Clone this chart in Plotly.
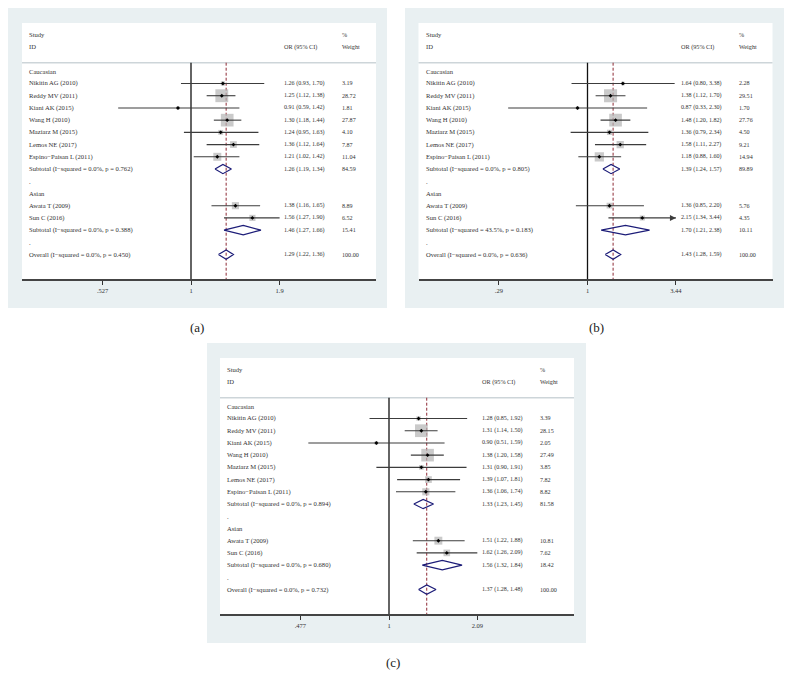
import math
import plotly.graph_objects as go

W, H = 792, 687
OFF = 8                      # browser body margin
FW, FH = W - 2 * OFF, H - 2 * OFF

# ---------------- data ----------------
study_names = ["Nikitin AG (2010)", "Reddy MV (2011)", "Kiani AK (2015)", "Wang H (2010)",
               "Maziarz M (2015)", "Lemos NE (2017)", "Espino\u2212Paisan L (2011)",
               "Awata T (2009)", "Sun C (2016)"]
study_groups = ["Caucasian"] * 7 + ["Asian"] * 2
group_names = ["Caucasian", "Asian"]

# panel (a)
a_or = [1.26, 1.25, 0.91, 1.30, 1.24, 1.36, 1.21, 1.38, 1.56]
a_lo = [0.93, 1.12, 0.59, 1.18, 0.95, 1.12, 1.02, 1.16, 1.27]
a_hi = [1.70, 1.38, 1.42, 1.44, 1.63, 1.64, 1.42, 1.65, 1.90]
a_wt = [3.19, 28.72, 1.81, 27.87, 4.10, 7.87, 11.04, 8.89, 6.52]
a_truncated = []
a_sub_or = [1.26, 1.46]
a_sub_lo = [1.19, 1.27]
a_sub_hi = [1.34, 1.66]
a_sub_wt = [84.59, 15.41]
a_sub_i2 = ["0.0%", "0.0%"]
a_sub_p = ["0.762", "0.388"]
a_all_or, a_all_lo, a_all_hi, a_all_wt = 1.29, 1.22, 1.36, 100.00
a_all_i2, a_all_p = "0.0%", "0.450"
a_tickvals = [0.527, 1, 1.9]
a_ticktext = [".527", "1", "1.9"]

# panel (b)
b_or = [1.64, 1.38, 0.87, 1.48, 1.36, 1.58, 1.18, 1.36, 2.15]
b_lo = [0.80, 1.12, 0.33, 1.20, 0.79, 1.11, 0.88, 0.85, 1.34]
b_hi = [3.38, 1.70, 2.30, 1.82, 2.34, 2.27, 1.60, 2.20, 3.44]
b_wt = [2.28, 29.51, 1.70, 27.76, 4.50, 9.21, 14.94, 5.76, 4.35]
b_truncated = ["Sun C (2016)"]
b_sub_or = [1.39, 1.70]
b_sub_lo = [1.24, 1.21]
b_sub_hi = [1.57, 2.38]
b_sub_wt = [89.89, 10.11]
b_sub_i2 = ["0.0%", "43.5%"]
b_sub_p = ["0.805", "0.183"]
b_all_or, b_all_lo, b_all_hi, b_all_wt = 1.43, 1.28, 1.59, 100.00
b_all_i2, b_all_p = "0.0%", "0.636"
b_tickvals = [0.29, 1, 3.44]
b_ticktext = [".29", "1", "3.44"]

# panel (c)
c_or = [1.28, 1.31, 0.90, 1.38, 1.31, 1.39, 1.36, 1.51, 1.62]
c_lo = [0.85, 1.14, 0.51, 1.20, 0.90, 1.07, 1.06, 1.22, 1.26]
c_hi = [1.92, 1.50, 1.59, 1.58, 1.91, 1.81, 1.74, 1.88, 2.09]
c_wt = [3.39, 28.15, 2.05, 27.49, 3.85, 7.82, 8.82, 10.81, 7.62]
c_truncated = []
c_sub_or = [1.33, 1.56]
c_sub_lo = [1.23, 1.32]
c_sub_hi = [1.45, 1.84]
c_sub_wt = [81.58, 18.42]
c_sub_i2 = ["0.0%", "0.0%"]
c_sub_p = ["0.894", "0.680"]
c_all_or, c_all_lo, c_all_hi, c_all_wt = 1.37, 1.28, 1.48, 100.00
c_all_i2, c_all_p = "0.0%", "0.732"
c_tickvals = [0.477, 1, 2.09]
c_ticktext = [".477", "1", "2.09"]

captions = ["(a)", "(b)", "(c)"]

panels = [
    dict(orv=a_or, lo=a_lo, hi=a_hi, wt=a_wt, tr=a_truncated, sor=a_sub_or, slo=a_sub_lo,
         shi=a_sub_hi, swt=a_sub_wt, si2=a_sub_i2, sp=a_sub_p,
         all=(a_all_or, a_all_lo, a_all_hi, a_all_wt),
         alli2=a_all_i2, allp=a_all_p, tv=a_tickvals, tt=a_ticktext),
    dict(orv=b_or, lo=b_lo, hi=b_hi, wt=b_wt, tr=b_truncated, sor=b_sub_or, slo=b_sub_lo,
         shi=b_sub_hi, swt=b_sub_wt, si2=b_sub_i2, sp=b_sub_p,
         all=(b_all_or, b_all_lo, b_all_hi, b_all_wt),
         alli2=b_all_i2, allp=b_all_p, tv=b_tickvals, tt=b_ticktext),
    dict(orv=c_or, lo=c_lo, hi=c_hi, wt=c_wt, tr=c_truncated, sor=c_sub_or, slo=c_sub_lo,
         shi=c_sub_hi, swt=c_sub_wt, si2=c_sub_i2, sp=c_sub_p,
         all=(c_all_or, c_all_lo, c_all_hi, c_all_wt),
         alli2=c_all_i2, allp=c_all_p, tv=c_tickvals, tt=c_ticktext),
]

# ---------------- layout geometry (window pixels) ----------------
geom = [
    dict(bg=(8, 8, 387, 308), wl=22, wt=23, ax=279, cap=(197, 328)),
    dict(bg=(405, 8, 784, 308), wl=418.5, wt=23, ax=279, cap=(596, 327)),
    dict(bg=(207, 343, 586, 643), wl=220, wt=358, ax=614, cap=(393, 662)),
]
WHITE_W = 354
TICK_L, TICK_1, TICK_R = 80.5, 169, 257.5
COL_LABEL, COL_OR, COL_WT = 5, 260, 318
Y_TOP, Y_BOT = -3.95, 17.0
HEAD_LINE = -0.7

FONT = "Liberation Serif"
TXT = "#333333"
BG = "#e9f0f2"
BOX = "#b4b4b4"
CI = "#3c3c3c"
DIA = "#1c1c78"
RED = "#8e2a35"

fig = go.Figure()
shapes = []
annotations = []


def px(x):
    return (x - OFF) / FW


def py(y):
    return 1 - (y - OFF) / FH


for i, (d, g) in enumerate(zip(panels, geom)):
    sfx = "" if i == 0 else str(i + 1)
    xa, ya = "x" + sfx, "y" + sfx
    xdom = xa + " domain"

    # backgrounds
    x0, y0, x1, y1 = g["bg"]
    shapes.append(dict(type="rect", xref="paper", yref="paper", x0=px(x0), x1=px(x1),
                       y0=py(y1), y1=py(y0), fillcolor=BG, line=dict(width=0), layer="below"))
    shapes.append(dict(type="rect", xref="paper", yref="paper", x0=px(g["wl"]),
                       x1=px(g["wl"] + WHITE_W), y0=py(g["ax"]), y1=py(g["wt"]),
                       fillcolor="white", line=dict(width=0), layer="below"))
    shapes.append(dict(type="line", xref=xdom, yref=ya, x0=0, x1=1, y0=HEAD_LINE, y1=HEAD_LINE,
                       line=dict(color="#cdd5d9", width=1.5), layer="below"))

    # axis range from tick values
    L = (abs(math.log(d["tv"][0])) + abs(math.log(d["tv"][2]))) / 2
    scale = (TICK_R - TICK_L) / 2 / L
    lmin = -TICK_1 / scale / math.log(10)
    lmax = (WHITE_W - TICK_1) / scale / math.log(10)

    fig.layout["xaxis" + sfx] = dict(
        type="log", range=[lmin, lmax],
        domain=[px(g["wl"]), px(g["wl"] + WHITE_W)], anchor=ya,
        tickmode="array", tickvals=d["tv"], ticktext=d["tt"],
        ticks="outside", ticklen=4, tickwidth=1, tickcolor="#333",
        showline=True, linecolor="#444", linewidth=1.5,
        showgrid=False, zeroline=False,
        tickfont=dict(family=FONT, size=6.5, color=TXT), fixedrange=True,
    )
    fig.layout["yaxis" + sfx] = dict(
        range=[Y_BOT, Y_TOP], domain=[py(g["ax"]), py(g["wt"])], anchor=xa,
        visible=False, showgrid=False, zeroline=False, fixedrange=True,
    )

    # build rows
    rows = []
    r = 0
    for gi, gname in enumerate(group_names):
        rows.append(dict(kind="group", r=r, label=gname)); r += 1
        for si, sname in enumerate(study_names):
            if study_groups[si] != gname:
                continue
            rows.append(dict(kind="study", r=r, label=sname, est=d["orv"][si], lo=d["lo"][si],
                             hi=d["hi"][si], w=d["wt"][si], tr=sname in d["tr"])); r += 1
        rows.append(dict(kind="sub", r=r,
                         label="Subtotal (I\u2212squared = %s, p = %s)" % (d["si2"][gi], d["sp"][gi]),
                         est=d["sor"][gi], lo=d["slo"][gi], hi=d["shi"][gi], w=d["swt"][gi])); r += 1
        rows.append(dict(kind="dot", r=r, label=".")); r += 1
    ao, al, ah, aw = d["all"]
    rows.append(dict(kind="sub", r=r,
                     label="Overall (I\u2212squared = %s, p = %s)" % (d["alli2"], d["allp"]),
                     est=ao, lo=al, hi=ah, w=aw))

    # reference lines
    fig.add_trace(go.Scatter(x=[1, 1], y=[HEAD_LINE, Y_BOT], mode="lines",
                             line=dict(color="#111", width=1.3), xaxis=xa, yaxis=ya,
                             showlegend=False, hoverinfo="skip"))
    fig.add_trace(go.Scatter(x=[ao, ao], y=[HEAD_LINE, Y_BOT], mode="lines",
                             line=dict(color=RED, width=1, dash="3px,2px"), xaxis=xa, yaxis=ya,
                             showlegend=False, hoverinfo="skip"))

    studies = [rw for rw in rows if rw["kind"] == "study"]
    # boxes
    fig.add_trace(go.Scatter(
        x=[s["est"] for s in studies], y=[s["r"] for s in studies], mode="markers",
        marker=dict(symbol="square", color=BOX, size=[2.4 * math.sqrt(s["w"]) for s in studies],
                    line=dict(width=0)),
        xaxis=xa, yaxis=ya, showlegend=False, hoverinfo="skip"))
    # CI lines
    cx, cy = [], []
    for s in studies:
        cx += [s["lo"], s["hi"], None]
        cy += [s["r"], s["r"], None]
    fig.add_trace(go.Scatter(x=cx, y=cy, mode="lines", line=dict(color=CI, width=1.1),
                             xaxis=xa, yaxis=ya, showlegend=False, hoverinfo="skip"))
    # arrows for truncated CIs
    arr = [s for s in studies if s["tr"]]
    if arr:
        fig.add_trace(go.Scatter(x=[s["hi"] for s in arr], y=[s["r"] for s in arr], mode="markers",
                                 marker=dict(symbol="arrow-right", size=6, color=CI),
                                 xaxis=xa, yaxis=ya, showlegend=False, hoverinfo="skip"))
    # point estimates
    fig.add_trace(go.Scatter(
        x=[s["est"] for s in studies], y=[s["r"] for s in studies], mode="markers",
        marker=dict(symbol="diamond", color="#000", size=3),
        xaxis=xa, yaxis=ya, showlegend=False, hoverinfo="skip"))
    # diamonds
    dx, dy = [], []
    hh = 0.38
    for s in rows:
        if s["kind"] != "sub":
            continue
        dx += [s["lo"], s["est"], s["hi"], s["est"], s["lo"], None]
        dy += [s["r"], s["r"] - hh, s["r"], s["r"] + hh, s["r"], None]
    fig.add_trace(go.Scatter(x=dx, y=dy, mode="lines", line=dict(color=DIA, width=1.2),
                             xaxis=xa, yaxis=ya, showlegend=False, hoverinfo="skip"))

    # text
    def txt(xoff, yv, s, size=6.6):
        annotations.append(dict(xref=xdom, yref=ya, x=xoff / WHITE_W, y=yv, text=s,
                                showarrow=False, xanchor="left", yanchor="middle",
                                font=dict(family=FONT, size=size, color=TXT)))

    txt(COL_LABEL, -3.0, "Study")
    txt(COL_LABEL, -2.0, "ID")
    txt(COL_OR, -2.0, "OR (95% CI)", 6.2)
    txt(COL_WT, -3.0, "%", 6.2)
    txt(COL_WT, -2.0, "Weight", 6.2)
    for rw in rows:
        txt(COL_LABEL, rw["r"], rw["label"])
        if rw["kind"] in ("study", "sub"):
            txt(COL_OR, rw["r"], "%.2f (%.2f, %.2f)" % (rw["est"], rw["lo"], rw["hi"]), 6.1)
            txt(COL_WT, rw["r"], "%.2f" % rw["w"], 6.1)

    cxp, cyp = g["cap"]
    annotations.append(dict(xref="paper", yref="paper", x=px(cxp), y=py(cyp), text=captions[i],
                            showarrow=False, xanchor="center", yanchor="middle",
                            font=dict(family=FONT, size=13, color="#222")))

fig.update_layout(
    width=FW, height=FH, margin=dict(l=0, r=0, t=0, b=0),
    paper_bgcolor="white", plot_bgcolor="rgba(0,0,0,0)",
    shapes=shapes, annotations=annotations, showlegend=False,
)

fig.write_html("out.html")
